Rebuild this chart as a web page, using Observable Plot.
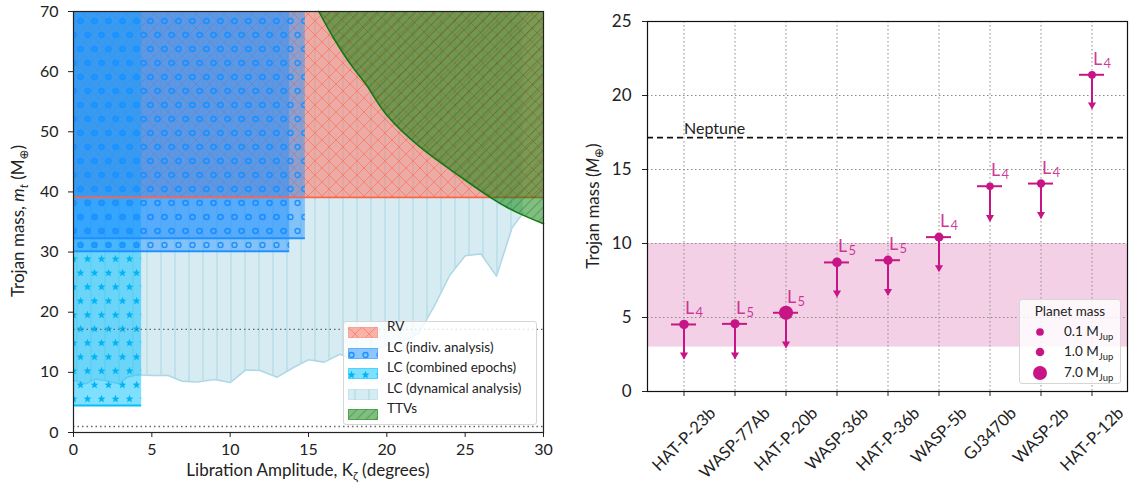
<!DOCTYPE html>
<html><head><meta charset="utf-8">
<script src="https://cdn.jsdelivr.net/npm/d3@7"></script>
<script src="https://cdn.jsdelivr.net/npm/@observablehq/plot@0.6"></script>
<style>
body{margin:0;background:#fff;font-family:Lato,"DejaVu Sans",sans-serif;color:#222;}
#wrap{position:relative;width:1130px;height:487px;overflow:hidden;}
#left,#right{position:absolute;top:0;}
#left{left:0;} #right{left:580px;}
.lab{position:absolute;white-space:nowrap;font-size:17px;color:#222;}
.rot{transform:translate(-50%,-50%) rotate(-90deg);}
.hz{transform:translate(-50%,-50%);}
.legend{position:absolute;background:rgba(255,255,255,0.82);border:1px solid #d6d6d6;border-radius:3px;box-sizing:border-box;}
.lrow{position:absolute;left:0;white-space:nowrap;font-size:13.5px;}
.lrow svg{position:absolute;left:4px;top:0;}
.lrow span{position:absolute;left:43px;top:-9px;}
sub{font-size:70%;}
</style></head><body>
<svg width="0" height="0" style="position:absolute">
<defs>
  <pattern id="hatchVert" patternUnits="userSpaceOnUse" width="14" height="14">
    <path d="M7,0V14" stroke="#9fcfdf" stroke-width="1" stroke-opacity="0.8"/>
  </pattern>
  <pattern id="hatchX" patternUnits="userSpaceOnUse" width="14" height="14">
    <path d="M0,0L14,14M14,0L0,14" stroke="#ff6347" stroke-width="1" stroke-opacity="0.55"/>
  </pattern>
  <pattern id="hatchSlash" patternUnits="userSpaceOnUse" width="9.5" height="9.5">
    <path d="M0,9.5L9.5,0M-2,2L2,-2M7.5,11.5L11.5,7.5" stroke="#0b4f0b" stroke-width="1" stroke-opacity="0.35"/>
  </pattern>
  <pattern id="hatchCircle" patternUnits="userSpaceOnUse" width="14" height="28">
    <circle cx="3.5" cy="7" r="2.5" fill="none" stroke="#1e90ff" stroke-width="1.4"/>
    <circle cx="10.5" cy="21" r="2.5" fill="none" stroke="#1e90ff" stroke-width="1.4"/>
  </pattern>
  <pattern id="hatchStar" patternUnits="userSpaceOnUse" width="14" height="28">
    <path id="starA" fill="#00b4f5"/>
    <path id="starB" fill="#00b4f5"/>
  </pattern>
</defs>
</svg>
<div id="wrap">
  <div id="left"></div>
  <div id="right"></div>
</div>
<script>
// ---------------- Left panel data ----------------
const libAmp  = [0, 0.8, 1.4, 2.0, 2.9, 3.4, 4.06, 5.0, 6.0, 6.9, 7.9, 9.0, 10.0, 11.0, 11.9, 13.0, 14.1, 15.0, 16.0, 17.0, 18.0, 19.0, 20.0, 21.0, 22.0, 23.0, 24.0, 25.0, 26.0, 27.0, 28.0, 28.7];
const libMass = [8.7, 8.1, 8.9, 8.65, 8.1, 9.2, 9.6, 9.5, 9.5, 8.55, 8.4, 8.8, 8.3, 10.4, 10.3, 9.2, 10.9, 12.1, 11.7, 13.0, 12.0, 13.5, 14.5, 15.2, 16.4, 20.9, 26.1, 29.4, 29.7, 26.0, 34.1, 36.5];
const ttvAmp  = [15.66, 16.6, 17.89, 18.85, 20.02, 22.15, 24.28, 26.6, 28.3, 30.0];
const ttvMass = [70, 65.6, 60.5, 57.2, 52.7, 47.4, 43.3, 39.1, 36.6, 34.7];
const rvAmp = [0, 30];
const rvMass = 39.1;
const lcIndivAmp = [13.8, 14.8];
const lcIndivMass = [30.15, 32.3];
const lcCombAmp = [4.35];
const lcCombMass = [4.5];
const refMasses = [17.15, 1.0];       // Neptune, Earth (dotted)
const massTop = 70;
const leftXTicks = [0, 5, 10, 15, 20, 25, 30];
const leftYTicks = [0, 10, 20, 30, 40, 50, 60, 70];
const leftLegend = ["RV", "LC (indiv. analysis)", "LC (combined epochs)", "LC (dynamical analysis)", "TTVs"];

// ---------------- Right panel data ----------------
const planets = ["HAT-P-23b", "WASP-77Ab", "HAT-P-20b", "WASP-36b", "HAT-P-36b", "WASP-5b", "GJ3470b", "WASP-2b", "HAT-P-12b"];
const trojanLimit = [4.53, 4.57, 5.32, 8.72, 8.87, 10.43, 13.87, 14.05, 21.4];
const arrowTip    = [2.2, 2.2, 2.95, 6.4, 6.5, 8.1, 11.5, 11.7, 19.1];
const lagrangePt  = ["4", "5", "5", "5", "5", "4", "4", "4", "4"];
const planetMass  = [2.09, 1.76, 7.25, 2.3, 1.83, 1.6, 0.04, 0.85, 0.21];
const neptuneMass = 17.15;
const bandLow = 3, bandHigh = 10;
const rightYTicks = [0, 5, 10, 15, 20, 25];
const legendMasses = [0.1, 1.0, 7.0];

const FONT = "Lato, 'DejaVu Sans', sans-serif";
const MAG = "#c71585";

function starPath(cx, cy, R, r) {
  let s = "";
  for (let i = 0; i < 10; i++) {
    const a = -Math.PI / 2 + i * Math.PI / 5, rad = i % 2 ? r : R;
    s += (i ? "L" : "M") + (cx + rad * Math.cos(a)).toFixed(2) + "," + (cy + rad * Math.sin(a)).toFixed(2);
  }
  return s + "Z";
}
document.getElementById("starA").setAttribute("d", starPath(3.5, 7, 4.2, 1.8));
document.getElementById("starB").setAttribute("d", starPath(10.5, 21, 4.2, 1.8));

const dyn = libAmp.map((a, i) => ({amp: a, mass: libMass[i]}));
const ttv = ttvAmp.map((a, i) => ({amp: a, mass: ttvMass[i]}));
const rvRect = [{x1: rvAmp[0], x2: rvAmp[1], y1: rvMass, y2: massTop}];
const combRect = lcCombAmp.map((a, i) => ({x1: 0, x2: a, y1: lcCombMass[i], y2: massTop}));
const indivRect = lcIndivAmp.map((a, i) => ({x1: 0, x2: a, y1: lcIndivMass[i], y2: massTop}));

const left = Plot.plot({
  width: 560, height: 487,
  marginLeft: 73, marginRight: 17, marginTop: 11, marginBottom: 55,
  style: {fontFamily: FONT, fontSize: "16px", color: "#222", background: "transparent"},
  x: {domain: [0, 30], label: null},
  y: {domain: [0, massTop], label: null},
  marks: [
    Plot.areaY(dyn, {x: "amp", y1: "mass", y2: massTop, fill: "#add8e6", fillOpacity: 0.5}),
    Plot.areaY(dyn, {x: "amp", y1: "mass", y2: massTop, fill: "url(#hatchVert)"}),
    Plot.line(dyn, {x: "amp", y: "mass", stroke: "#add8e6", strokeWidth: 1.6}),
    Plot.rect(rvRect, {x1: "x1", x2: "x2", y1: "y1", y2: "y2", fill: "#fa8072", fillOpacity: 0.6}),
    Plot.rect(rvRect, {x1: "x1", x2: "x2", y1: "y1", y2: "y2", fill: "url(#hatchX)"}),
    Plot.rect(combRect, {x1: "x1", x2: "x2", y1: "y1", y2: "y2", fill: "#00bfff", fillOpacity: 0.5}),
    Plot.rect(combRect, {x1: "x1", x2: "x2", y1: "y1", y2: "y2", fill: "url(#hatchStar)"}),
    Plot.rect(indivRect, {x1: "x1", x2: "x2", y1: "y1", y2: "y2", fill: "#1e90ff", fillOpacity: 0.45}),
    Plot.rect(indivRect, {x1: "x1", x2: "x2", y1: "y1", y2: "y2", fill: "url(#hatchCircle)"}),
    Plot.ruleY(combRect, {x1: "x1", x2: "x2", y: "y1", stroke: "#00bfff", strokeWidth: 2}),
    Plot.ruleY(indivRect, {x1: "x1", x2: "x2", y: "y1", stroke: "#1e90ff", strokeWidth: 2}),
    Plot.ruleY([rvMass], {stroke: "#ff6347", strokeWidth: 1.6}),
    Plot.areaY(ttv, {x: "amp", y1: "mass", y2: massTop, fill: "#008000", fillOpacity: 0.5, curve: "natural"}),
    Plot.areaY(ttv, {x: "amp", y1: "mass", y2: massTop, fill: "url(#hatchSlash)", curve: "natural"}),
    Plot.line(ttv, {x: "amp", y: "mass", stroke: "#137a13", strokeWidth: 1.6, curve: "natural"}),
    Plot.ruleY(refMasses, {stroke: "#666", strokeDasharray: "1.5,3", strokeWidth: 1.3}),
    Plot.axisX({ticks: leftXTicks, tickSize: 5, tickPadding: 6, label: null}),
    Plot.axisY({ticks: leftYTicks, tickSize: 5, tickPadding: 10, label: null}),
    Plot.frame({stroke: "#222", strokeWidth: 1.2})
  ]
});
document.getElementById("left").appendChild(left);

const rows = planets.map((p, i) => ({name: p, limit: trojanLimit[i], tip: arrowTip[i], lag: lagrangePt[i], mass: planetMass[i]}));

const right = Plot.plot({
  width: 550, height: 487,
  marginLeft: 67, marginRight: 3, marginTop: 21, marginBottom: 96,
  style: {fontFamily: FONT, fontSize: "17px", color: "#222", background: "transparent"},
  x: {domain: planets, type: "band", paddingInner: 0.515, paddingOuter: 0.43, label: null},
  y: {domain: [0, 25], label: null},
  r: {type: "linear", domain: [0, 7], range: [3.8, 7]},
  marks: [
    Plot.rect([0], {y1: bandLow, y2: bandHigh, fill: MAG, fillOpacity: 0.2}),
    Plot.gridX({stroke: "#8a8a8a", strokeOpacity: 1, strokeDasharray: "1.5,2.5", strokeWidth: 1}),
    Plot.gridY({ticks: rightYTicks, stroke: "#8a8a8a", strokeOpacity: 1, strokeDasharray: "1.5,2.5", strokeWidth: 1}),
    Plot.ruleY([neptuneMass], {stroke: "#111", strokeDasharray: "6,4", strokeWidth: 1.8}),
    Plot.text(["Neptune"], {x: () => planets[0], y: () => neptuneMass, text: d => d, textAnchor: "start", lineAnchor: "bottom", dy: -4, fontSize: 16, fill: "#222"}),
    Plot.ruleX(rows, {x: "name", y1: "limit", y2: "tip", stroke: MAG, strokeWidth: 2}),
    Plot.dot(rows, {x: "name", y: "tip", symbol: "triangle", rotate: 180, r: 3, fill: MAG, stroke: "none", dy: -4}),
    Plot.tickY(rows, {x: "name", y: "limit", stroke: MAG, strokeWidth: 2}),
    Plot.dot(rows, {x: "name", y: "limit", r: "mass", fill: MAG, stroke: "none"}),
    Plot.text(rows, {x: "name", y: "limit", text: () => "L", textAnchor: "start", lineAnchor: "bottom", dx: 1, dy: -10, fontSize: 18, fill: MAG, fillOpacity: 0.85}),
    Plot.text(rows, {x: "name", y: "limit", text: "lag", textAnchor: "start", lineAnchor: "bottom", dx: 11.5, dy: -7, fontSize: 13, fill: MAG, fillOpacity: 0.85}),
    Plot.axisY({ticks: rightYTicks, tickSize: 5, tickPadding: 11, label: null}),
    Plot.axisX({tickSize: 5, tickRotate: -45, textAnchor: "middle", label: null, fontSize: 16.5}),
    Plot.frame({stroke: "#111", strokeWidth: 1.2})
  ]
});
document.getElementById("right").appendChild(right);

// place rotated category labels: bbox centred under tick, top at fixed height
(function () {
  const svgRect = right.getBoundingClientRect();
  const xs = right.scale("x");
  const labelTop = 403;
  right.querySelectorAll('g[aria-label="x-axis tick label"] text').forEach(t => {
    const name = t.textContent;
    const b = t.getBoundingClientRect();
    const cx = b.left + b.width / 2 - svgRect.left;
    const top = b.top - svgRect.top;
    const want = xs.apply(name) + xs.bandwidth / 2;
    const cur = t.getAttribute("transform") || "";
    t.setAttribute("transform", `translate(${want - cx},${labelTop - top}) ${cur}`);
  });
})();

// ---------------- HTML labels & legends ----------------
const wrap = document.getElementById("wrap");
function addDiv(html, cls, style) {
  const d = document.createElement("div");
  d.className = cls; d.innerHTML = html; Object.assign(d.style, style);
  wrap.appendChild(d); return d;
}
addDiv("Trojan mass, <i>m</i><sub><i>t</i></sub> (M<sub>⊕</sub>)", "lab rot", {left: "19px", top: "221px"});
addDiv("Libration Amplitude, K<sub>ζ</sub> (degrees)", "lab hz", {left: "308px", top: "471px"});
addDiv("Trojan mass (<i>M</i><sub>⊕</sub>)", "lab rot", {left: "594px", top: "206px"});

const lg = addDiv("", "legend", {left: "343px", top: "321px", width: "194px", height: "104px"});
const sw = [
  {fill: "#fa8072", op: 0.6, pat: "hatchX", edge: "#fa8072"},
  {fill: "#1e90ff", op: 0.5, pat: "hatchCircle", edge: "#1e90ff"},
  {fill: "#00bfff", op: 0.5, pat: "hatchStar", edge: "#00bfff"},
  {fill: "#add8e6", op: 0.5, pat: "hatchVert", edge: "#add8e6"},
  {fill: "#008000", op: 0.5, pat: "hatchSlash", edge: "#008000"}
];
leftLegend.forEach((name, i) => {
  const s = sw[i];
  const r = document.createElement("div");
  r.className = "lrow";
  r.style.top = (5 + i * 20.5) + "px";
  r.innerHTML = `<svg width="30" height="11"><rect x="0.5" y="0.5" width="29" height="10" fill="${s.fill}" fill-opacity="${s.op}" stroke="${s.edge}" stroke-opacity="0.6"/><rect x="0.5" y="0.5" width="29" height="10" fill="url(#${s.pat})"/></svg><span>${name}</span>`;
  lg.appendChild(r);
});

const rs = right.scale("r");
const rl = addDiv("", "legend", {left: "1019px", top: "299px", width: "102px", height: "85px"});
const tt = document.createElement("div");
Object.assign(tt.style, {position: "absolute", left: "0", width: "100%", textAlign: "center", top: "3px", fontSize: "13.5px"});
tt.textContent = "Planet mass";
rl.appendChild(tt);
legendMasses.forEach((m, i) => {
  const rad = rs.apply(m);
  const r = document.createElement("div");
  Object.assign(r.style, {position: "absolute", left: "0", top: (32 + i * 20.3 - 10) + "px", width: "100%", height: "20px", fontSize: "13.5px"});
  r.innerHTML = `<svg width="40" height="20" style="position:absolute;left:0;top:0"><circle cx="20" cy="10" r="${rad}" fill="${MAG}"/></svg><span style="position:absolute;left:44px;top:1px;white-space:nowrap">${m.toFixed(1)} M<sub style="font-size:70%">Jup</sub></span>`;
  rl.appendChild(r);
});
</script>
</body></html>
